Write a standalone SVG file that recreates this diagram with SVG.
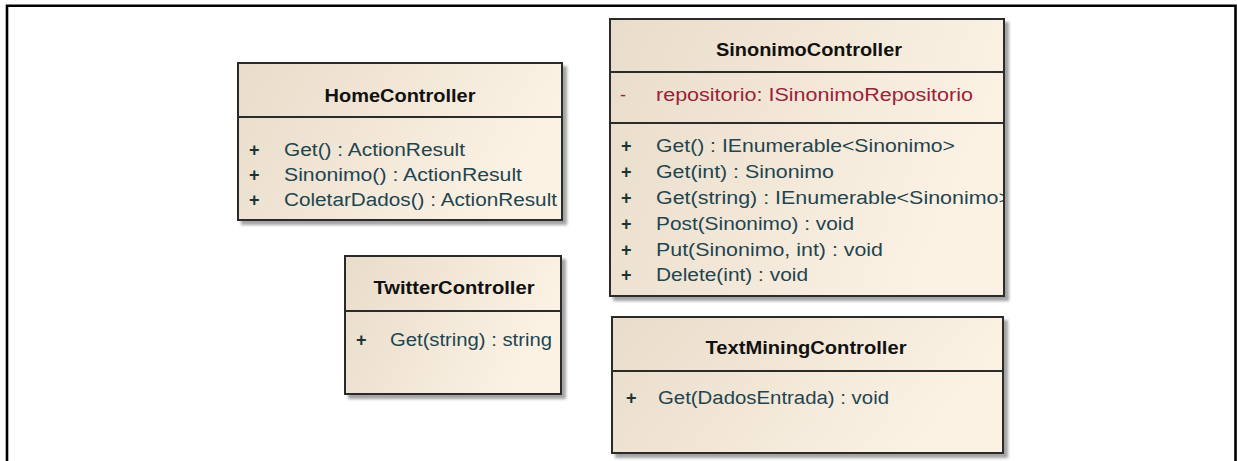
<svg xmlns="http://www.w3.org/2000/svg" width="1237" height="461" viewBox="0 0 1237 461">
<style>
.box{fill:url(#bg);stroke:#2b2b2b;stroke-width:2;filter:url(#sh)}
.div{stroke:#2b2b2b;stroke-width:2}
.t{font-family:"Liberation Sans",Arial,sans-serif;font-size:18px;font-weight:bold;fill:#111;text-anchor:middle}
.m{font-family:"Liberation Sans",Arial,sans-serif;font-size:18px;fill:#1e4550}
.p{font-family:"Liberation Sans",Arial,sans-serif;font-size:18px;font-weight:bold;fill:#1a3434}
.a{font-family:"Liberation Sans",Arial,sans-serif;font-size:18px;fill:#9a2238}
</style>
<defs>
<linearGradient id="bg" x1="0" y1="0" x2="1" y2="0.3">
<stop offset="0" stop-color="#e8dcca"/>
<stop offset="1" stop-color="#fcf2e4"/>
</linearGradient>
<filter id="sh" x="-5%" y="-5%" width="115%" height="115%">
<feGaussianBlur in="SourceAlpha" stdDeviation="1.5"/>
<feOffset dx="4" dy="4" result="o"/>
<feFlood flood-color="#7a7a7a" flood-opacity="0.7"/>
<feComposite in2="o" operator="in"/>
<feMerge><feMergeNode/><feMergeNode in="SourceGraphic"/></feMerge>
</filter>
<clipPath id="clipS"><rect x="610" y="19" width="394" height="277"/></clipPath>
</defs>
<rect width="1237" height="461" fill="#fff"/>
<path d="M7 461 V5.7 H1235.5 V461" fill="none" stroke="#000" stroke-width="2.6"/>
<g id="connectors"/>
<g id="HomeController">
<rect class="box" x="238" y="63" width="324" height="157"/>
<line class="div" x1="238" y1="117" x2="562" y2="117"/>
<text class="t" x="400" y="102" textLength="151" lengthAdjust="spacingAndGlyphs">HomeController</text>
<text class="p" x="249" y="156">+</text>
<text class="p" x="249" y="181">+</text>
<text class="p" x="249" y="206">+</text>
<text class="m" x="284" y="156" textLength="181" lengthAdjust="spacingAndGlyphs">Get() : ActionResult</text>
<text class="m" x="284" y="181" textLength="238" lengthAdjust="spacingAndGlyphs">Sinonimo() : ActionResult</text>
<text class="m" x="284" y="206" textLength="273" lengthAdjust="spacingAndGlyphs">ColetarDados() : ActionResult</text>
</g>
<g id="SinonimoController">
<rect class="box" x="610" y="19" width="394" height="277"/>
<line class="div" x1="610" y1="72" x2="1004" y2="72"/>
<line class="div" x1="610" y1="123" x2="1004" y2="123"/>
<text class="t" x="809" y="56" textLength="186" lengthAdjust="spacingAndGlyphs">SinonimoController</text>
<text class="a" x="620" y="101">-</text>
<text class="a" x="656" y="101" textLength="317" lengthAdjust="spacingAndGlyphs">repositorio:  ISinonimoRepositorio</text>
<text class="p" x="621" y="152">+</text>
<text class="p" x="621" y="178">+</text>
<text class="p" x="621" y="204">+</text>
<text class="p" x="621" y="230">+</text>
<text class="p" x="621" y="256">+</text>
<text class="p" x="621" y="281">+</text>
<text class="m" x="656" y="152" textLength="299" lengthAdjust="spacingAndGlyphs">Get() : IEnumerable&lt;Sinonimo&gt;</text>
<text class="m" x="656" y="178" textLength="178" lengthAdjust="spacingAndGlyphs">Get(int) : Sinonimo</text>
<text class="m" x="656" y="204" textLength="355" lengthAdjust="spacingAndGlyphs" clip-path="url(#clipS)">Get(string) : IEnumerable&lt;Sinonimo&gt;</text>
<text class="m" x="656" y="230" textLength="198" lengthAdjust="spacingAndGlyphs">Post(Sinonimo) : void</text>
<text class="m" x="656" y="256" textLength="227" lengthAdjust="spacingAndGlyphs">Put(Sinonimo, int) : void</text>
<text class="m" x="656" y="281" textLength="152" lengthAdjust="spacingAndGlyphs">Delete(int) : void</text>
<rect x="610" y="19" width="394" height="277" fill="none" stroke="#2b2b2b" stroke-width="2"/>
</g>
<g id="TwitterController">
<rect class="box" x="345" y="256" width="216" height="138"/>
<line class="div" x1="345" y1="311" x2="561" y2="311"/>
<text class="t" x="454" y="294" textLength="161" lengthAdjust="spacingAndGlyphs">TwitterController</text>
<text class="p" x="356" y="346">+</text>
<text class="m" x="390" y="346" textLength="162" lengthAdjust="spacingAndGlyphs">Get(string) : string</text>
</g>
<g id="TextMiningController">
<rect class="box" x="612" y="317" width="391" height="136"/>
<line class="div" x1="612" y1="371" x2="1003" y2="371"/>
<text class="t" x="806" y="354" textLength="201" lengthAdjust="spacingAndGlyphs">TextMiningController</text>
<text class="p" x="626" y="404">+</text>
<text class="m" x="658" y="404" textLength="231" lengthAdjust="spacingAndGlyphs">Get(DadosEntrada) : void</text>
</g>
</svg>
